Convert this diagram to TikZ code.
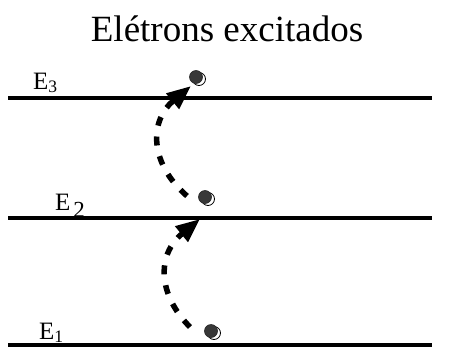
\documentclass[tikz,border=0pt]{standalone}
\usepackage{fontspec}
\setmainfont{Liberation Serif}
\usetikzlibrary{arrows.meta}
\begin{document}
\begin{tikzpicture}[x=1pt,y=-1pt,
  level/.style={line width=4pt},
  lbl/.style={anchor=base west,inner sep=0pt,font=\fontsize{25}{25}\selectfont},
  jump/.style={line width=5.5pt,dash pattern=on 9pt off 11pt,-{Triangle[length=24pt,width=19pt]}},
  eldark/.style={fill=black!78,draw=black!85,line width=0.6pt},
  elring/.style={fill=white,draw=black,line width=0.8pt}]
\useasboundingbox (0,0) rectangle (449,348);
\node[anchor=base,inner sep=0pt,font=\fontsize{37}{37}\selectfont] (title) at (227,41) {Elétrons excitados};
% levels
\coordinate (l3a) at (8,98);  \coordinate (l3b) at (432,98);
\coordinate (l2a) at (8,218); \coordinate (l2b) at (432,218);
\coordinate (l1a) at (8,345); \coordinate (l1b) at (432,345);
\draw[level] (l3a) -- (l3b);
\draw[level] (l2a) -- (l2b);
\draw[level] (l1a) -- (l1b);
\node[lbl] (e3) at (33,89) {E\textsubscript{3}};
\node[lbl] (e2) at (55,210) {E\kern3pt\raisebox{-7pt}{\fontsize{23}{23}\selectfont 2}};
\node[lbl] (e1) at (39,339) {E\textsubscript{1}};
% electrons
\foreach \n/\x/\y in {c3/196/77, c2/205/197, c1/211/331}{
  \draw[elring] (\x+3,\y+2) circle (6.5);
  \draw[eldark] (\x,\y) circle (6.5);
  \coordinate (\n) at (\x,\y);
}
% jumps
\coordinate (s1) at (190,327);
\coordinate (t1) at (200,219);
\coordinate (s2) at (187,196);
\coordinate (t2) at (191,86);
\draw[jump] (s1) .. controls (158,295) and (156,255) .. (t1);
\draw[jump] (s2) .. controls (148,162) and (150,120) .. (t2);
\end{tikzpicture}
\end{document}
